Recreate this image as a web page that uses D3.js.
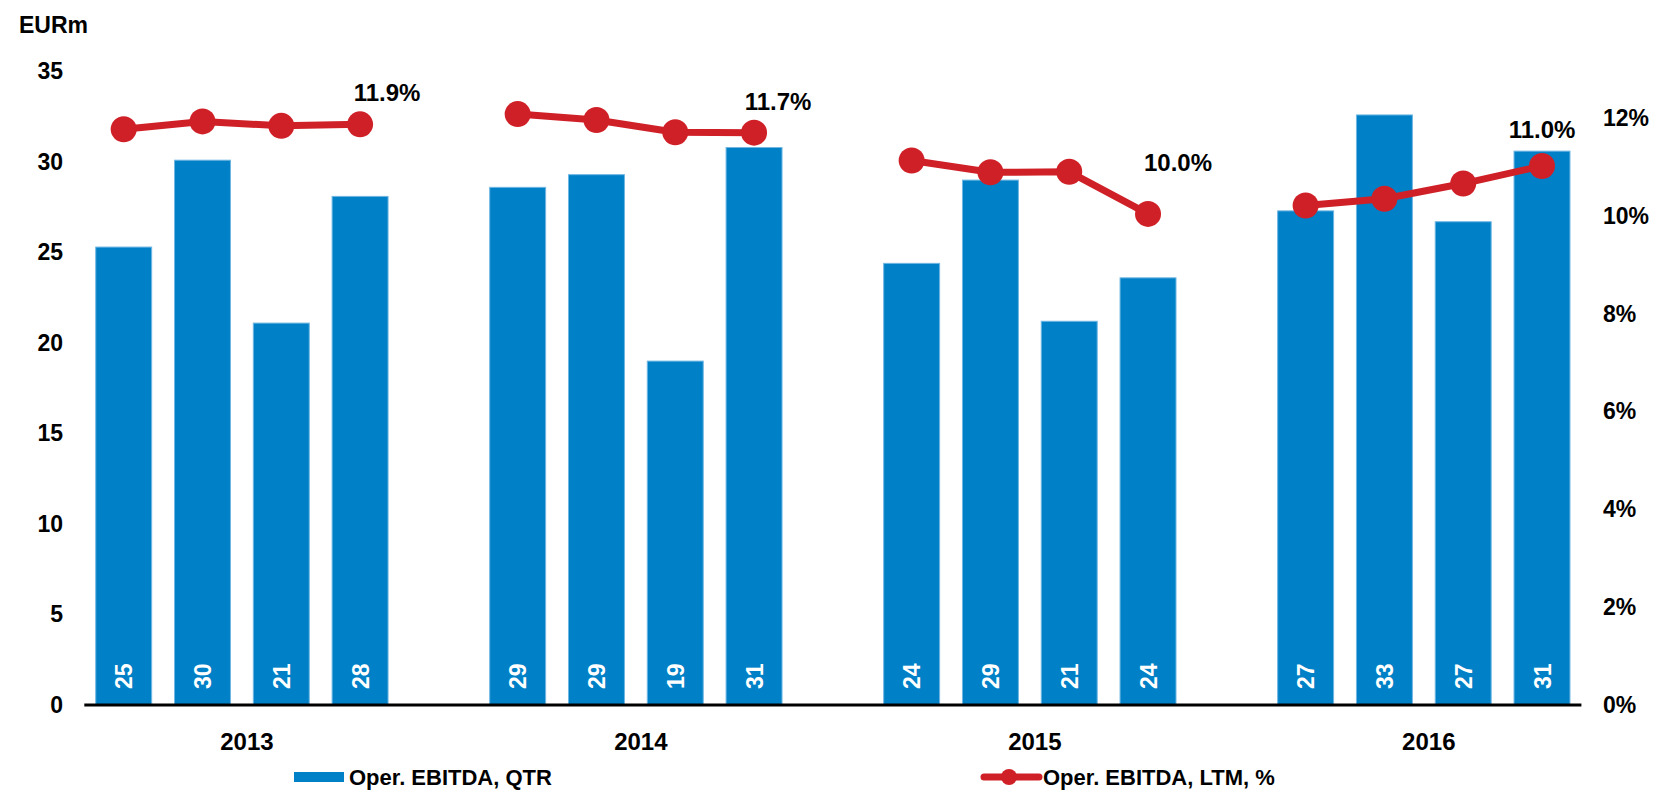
<!DOCTYPE html>
<html>
<head>
<meta charset="utf-8">
<script src="https://cdn.jsdelivr.net/npm/d3@7"></script>
<style>
    body { margin: 0; background: #ffffff; }
    svg { display: block; font-family: "Liberation Sans", Arial, sans-serif; font-weight: bold; }
</style>
</head>
<body>
<svg></svg>
<script>
// chart values
var years = ["2013", "2014", "2015", "2016"]
var quarters = ["Q1", "Q2", "Q3", "Q4"]
var ebitdaQtr = [
    [25.3, 30.1, 21.1, 28.1],
    [28.6, 29.3, 19.0, 30.8],
    [24.4, 29.0, 21.2, 23.6],
    [27.3, 32.6, 26.7, 30.6]
]
var ebitdaLtm = [
    [11.77, 11.93, 11.84, 11.87],
    [12.08, 11.96, 11.71, 11.70],
    [11.13, 10.89, 10.90, 10.04],
    [10.21, 10.35, 10.66, 11.02]
]
var leftTicks = [0, 5, 10, 15, 20, 25, 30, 35]
var rightTicks = [0, 2, 4, 6, 8, 10, 12]
var seriesNames = ["Oper. EBITDA, QTR", "Oper. EBITDA, LTM, %"]

var blue = "#0080c6"
var red = "#d02027"

var screen = {width: 1655, height: 792}
var plot = {left: 84.3, right: 1581.4, top: 71.5, bottom: 705}

// where the end-of-year % label sits next to its point (dx, dy)
var pctLabelShift = [[27, -23], [24, -23], [30, -43], [0, -28]]

var svg = d3.select("svg")
    .attr("width", screen.width)
    .attr("height", screen.height)

//one slot per quarter, plus an empty slot between the years
var slots = []
years.forEach(function(yr, yi){
    quarters.forEach(function(q){ slots.push(yr + q) })
    if (yi < years.length - 1) slots.push("gap" + yr)
})

var xScale = d3.scaleBand()
    .domain(slots)
    .range([plot.left, plot.right])
    .paddingInner(0.29)
    .paddingOuter(0.145)

var yScale = d3.scaleLinear()
    .domain([0, 35])
    .range([plot.bottom, plot.top])

var pctScale = d3.scaleLinear()
    .domain([0, 12])
    .range([plot.bottom, 118])

//flatten to rows
var rows = []
years.forEach(function(yr, yi){
    quarters.forEach(function(q, qi){
        rows.push({year: yr, yi: yi, qi: qi, key: yr + q, qtr: ebitdaQtr[yi][qi], ltm: ebitdaLtm[yi][qi]})
    })
})

var cx = function(d){ return xScale(d.key) + xScale.bandwidth() / 2 }

// left axis
var yAxis = d3.axisLeft(yScale).tickValues(leftTicks).tickSize(0).tickPadding(3)
svg.append("g")
    .attr("transform", "translate(66,0)")
    .call(yAxis)
    .call(function(g){ g.select(".domain").remove() })
    .selectAll("text")
    .attr("font-size", 23)
    .attr("font-family", "Liberation Sans, Arial, sans-serif")
    .attr("font-weight", "bold")
    .attr("fill", "#000")

// right axis
var rAxis = d3.axisRight(pctScale).tickValues(rightTicks).tickSize(0).tickPadding(3)
    .tickFormat(function(d){ return d + "%" })
svg.append("g")
    .attr("transform", "translate(1600,0)")
    .call(rAxis)
    .call(function(g){ g.select(".domain").remove() })
    .selectAll("text")
    .attr("font-size", 23)
    .attr("font-family", "Liberation Sans, Arial, sans-serif")
    .attr("font-weight", "bold")
    .attr("fill", "#000")

svg.append("text")
    .attr("x", 19)
    .attr("y", 33)
    .attr("font-size", 23)
    .text("EURm")

// bars
svg.append("g").attr("id", "bars")
    .selectAll("rect")
    .data(rows)
    .enter()
    .append("rect")
    .attr("x", function(d){ return xScale(d.key) })
    .attr("width", xScale.bandwidth())
    .attr("y", function(d){ return yScale(d.qtr) })
    .attr("height", function(d){ return yScale(0) - yScale(d.qtr) })
    .attr("fill", blue)
    .attr("stroke", "#6fb6e3")
    .attr("stroke-width", 1)

// values inside bars, rotated
svg.append("g")
    .selectAll("text")
    .data(rows)
    .enter()
    .append("text")
    .attr("transform", function(d){ return "translate(" + (cx(d) + 8.5) + "," + (plot.bottom - 16) + ") rotate(-90)" })
    .attr("fill", "#fff")
    .attr("font-size", 23)
    .text(function(d){ return Math.round(d.qtr) })

// baseline
svg.append("line")
    .attr("x1", plot.left).attr("x2", plot.right)
    .attr("y1", plot.bottom).attr("y2", plot.bottom)
    .attr("stroke", "#000")
    .attr("stroke-width", 3)

// year labels
svg.append("g")
    .selectAll("text")
    .data(years)
    .enter()
    .append("text")
    .attr("x", function(yr){
        return (xScale(yr + "Q1") + xScale(yr + "Q4") + xScale.bandwidth()) / 2 + 5
    })
    .attr("y", 750)
    .attr("text-anchor", "middle")
    .attr("font-size", 24)
    .text(function(yr){ return yr })

// LTM line, one piece per year
var lineGenerator = d3.line()
    .x(cx)
    .y(function(d){ return pctScale(d.ltm) })

years.forEach(function(yr, yi){
    var pts = rows.filter(function(r){ return r.yi == yi })
    svg.append("path")
        .datum(pts)
        .attr("d", lineGenerator)
        .attr("fill", "none")
        .attr("stroke", red)
        .attr("stroke-width", 7)
        .attr("stroke-linejoin", "round")

    svg.selectAll(".dot" + yr)
        .data(pts)
        .enter()
        .append("circle")
        .attr("cx", cx)
        .attr("cy", function(d){ return pctScale(d.ltm) })
        .attr("r", 13)
        .attr("fill", red)

    var last = pts[pts.length - 1]
    svg.append("text")
        .attr("x", cx(last) + pctLabelShift[yi][0])
        .attr("y", pctScale(last.ltm) + pctLabelShift[yi][1])
        .attr("text-anchor", "middle")
        .attr("font-size", 24)
        .text(last.ltm.toFixed(1) + "%")
})

// legend
var legend = svg.append("g").attr("id", "legend")
legend.append("rect")
    .attr("x", 294).attr("y", 772)
    .attr("width", 50).attr("height", 10)
    .attr("fill", blue)
legend.append("text")
    .attr("x", 349).attr("y", 785)
    .attr("font-size", 22)
    .text(seriesNames[0])

legend.append("line")
    .attr("x1", 984).attr("x2", 1039)
    .attr("y1", 777).attr("y2", 777)
    .attr("stroke", red)
    .attr("stroke-width", 7)
    .attr("stroke-linecap", "round")
legend.append("circle")
    .attr("cx", 1009).attr("cy", 777)
    .attr("r", 8)
    .attr("fill", red)
legend.append("text")
    .attr("x", 1043).attr("y", 785)
    .attr("font-size", 22)
    .text(seriesNames[1])
</script>
</body>
</html>
